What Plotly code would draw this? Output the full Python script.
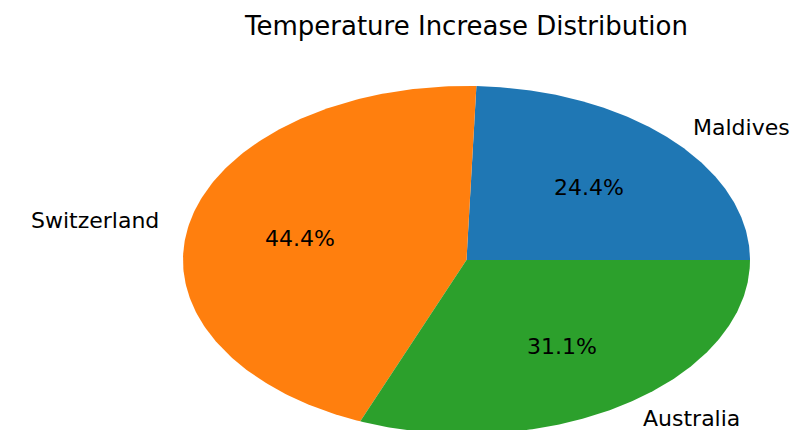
import numpy as np
import plotly.graph_objects as go

labels = ["Maldives", "Switzerland", "Australia"]
values = [1.1, 2.0, 1.4]
colors = ["#1f77b4", "#ff7f0e", "#2ca02c"]
title = "Temperature Increase Distribution"

W, H = 807, 430
cx, cy, rx, ry = 466.5, 260.0, 283.5, 174.0  # pixel geometry of the pie

fig = go.Figure()
total = sum(values)
start = 0.0
for lab, v, c in zip(labels, values, colors):
    span = 360.0 * v / total
    th = np.radians(np.linspace(start, start + span, 200))
    xs = np.concatenate([[0], np.cos(th), [0]])
    ys = np.concatenate([[0], np.sin(th), [0]])
    fig.add_trace(go.Scatter(x=xs, y=ys, mode="lines", fill="toself",
                             fillcolor=c, line=dict(width=0, color=c),
                             hoverinfo="text", text=lab, showlegend=False))
    mid = np.radians(start + span / 2)
    lx, ly = 1.1 * np.cos(mid), 1.1 * np.sin(mid)
    fig.add_annotation(x=lx, y=ly, text=lab, showarrow=False,
                       xanchor="left" if lx > 0 else "right", yanchor="middle",
                       font=dict(family="DejaVu Sans", size=22, color="black"))
    fig.add_annotation(x=0.6 * np.cos(mid), y=0.6 * np.sin(mid),
                       text=f"{100 * v / total:.1f}%", showarrow=False,
                       xanchor="center", yanchor="middle",
                       font=dict(family="DejaVu Sans", size=22, color="black"))
    start += span

fig.update_layout(
    width=W, height=H, margin=dict(l=0, r=0, t=0, b=0),
    plot_bgcolor="white", paper_bgcolor="white",
    title=dict(text=title, x=cx / W, xanchor="center", y=1 - 26 / H, yanchor="middle",
               font=dict(family="DejaVu Sans", size=26, color="black")),
    xaxis=dict(range=[-cx / rx, (W - cx) / rx], visible=False, fixedrange=True),
    yaxis=dict(range=[-(H - cy) / ry, cy / ry], visible=False, fixedrange=True),
)
fig.write_html("out.html")
